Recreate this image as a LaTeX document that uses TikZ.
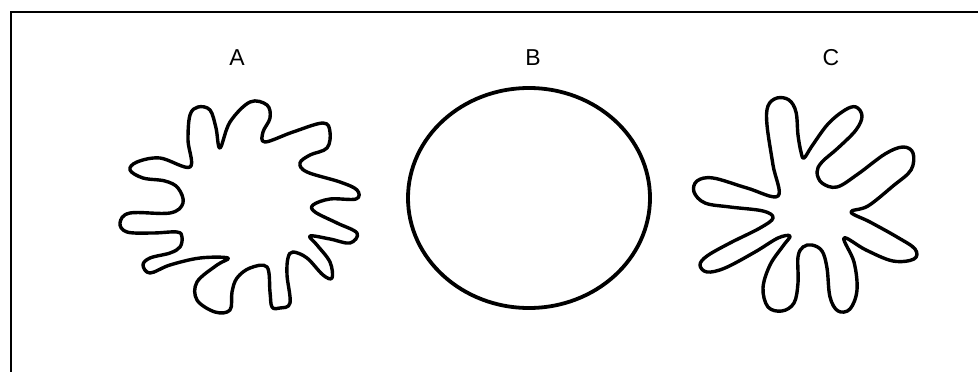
\documentclass[tikz,border=0pt]{standalone}
\usepackage{fontspec}
\setmainfont{Liberation Sans}
\begin{document}
\begin{tikzpicture}[x=1pt,y=-1pt,
  outline/.style={line width=3.4pt, line join=round},
  lbl/.style={font=\fontsize{23}{23}\selectfont, inner sep=0pt}]

  \useasboundingbox (0,0) rectangle (978,372);

  % Frame (only top and left edges show)
  \draw[line width=1.6pt] (11,372) -- (11,12) -- (978,12);

  % Labels
  \node[lbl] (labA) at (237,58) {A};
  \node[lbl] (labB) at (533,58) {B};
  \node[lbl] (labC) at (831,58) {C};

  % Shape A: wavy blob with many short lobes
  \draw[outline] plot[smooth cycle, tension=0.6] coordinates {
    (190,167) (188,140) (190,115) (198,107) (210,110) (216,128) (220,148)
    (230,122) (250,102) (267,105) (270,118) (263,132) (265,142)
    (293,132) (323,123) (330,132) (327,148) (310,155) (300,163)
    (307,172) (340,182) (357,190) (356,199) (330,199) (313,205)
    (315,212) (337,223) (357,233) (350,243) (330,239) (310,236)
    (317,245) (330,262) (332,278) (323,275) (307,258) (293,252)
    (288,258) (287,275) (290,303) (280,308) (272,307) (270,292) (267,267)
    (250,268) (237,278) (232,292) (230,310) (215,312) (197,300) (197,282) (217,265) (228,258)
    (200,258) (170,265) (150,273) (143,265) (150,258) (170,253) (180,247) (182,237)
    (177,232) (153,233) (127,232) (120,223) (130,213) (170,213) (183,203)
    (178,188) (165,181) (143,178) (130,170) (137,162) (160,158)};

  % Shape B: plain round cell
  \draw[outline, line width=3.8pt] (529,198) ellipse [x radius=121, y radius=110];

  % Shape C: star-like blob with long fingers
  \draw[outline] plot[smooth cycle, tension=0.6] coordinates {
    (778,196) (773,165) (767,125) (768,106) (777,98) (789,100) (796,112) (798,135) (801,152) (804,158)
    (812,146) (828,124) (845,110) (856,107) (862,116) (856,130) (838,148) (822,162) (817,172)
    (822,183) (837,187) (858,174) (885,154) (903,147) (913,153) (911,170) (893,186) (868,206) (851,212)
    (870,222) (897,237) (915,249) (914,259) (893,261) (866,250) (844,238)
    (854,262) (857,290) (850,309) (838,311) (830,297) (827,268) (822,251) (812,245) (803,247)
    (798,257) (798,283) (794,303) (782,311) (768,307) (763,288) (770,265) (783,246) (790,236)
    (778,238) (755,252) (725,268) (707,272) (700,265) (707,256) (730,243) (760,228) (773,218)
    (763,211) (730,207) (705,203) (694,192) (697,181) (713,178) (747,188)};

\end{tikzpicture}
\end{document}
